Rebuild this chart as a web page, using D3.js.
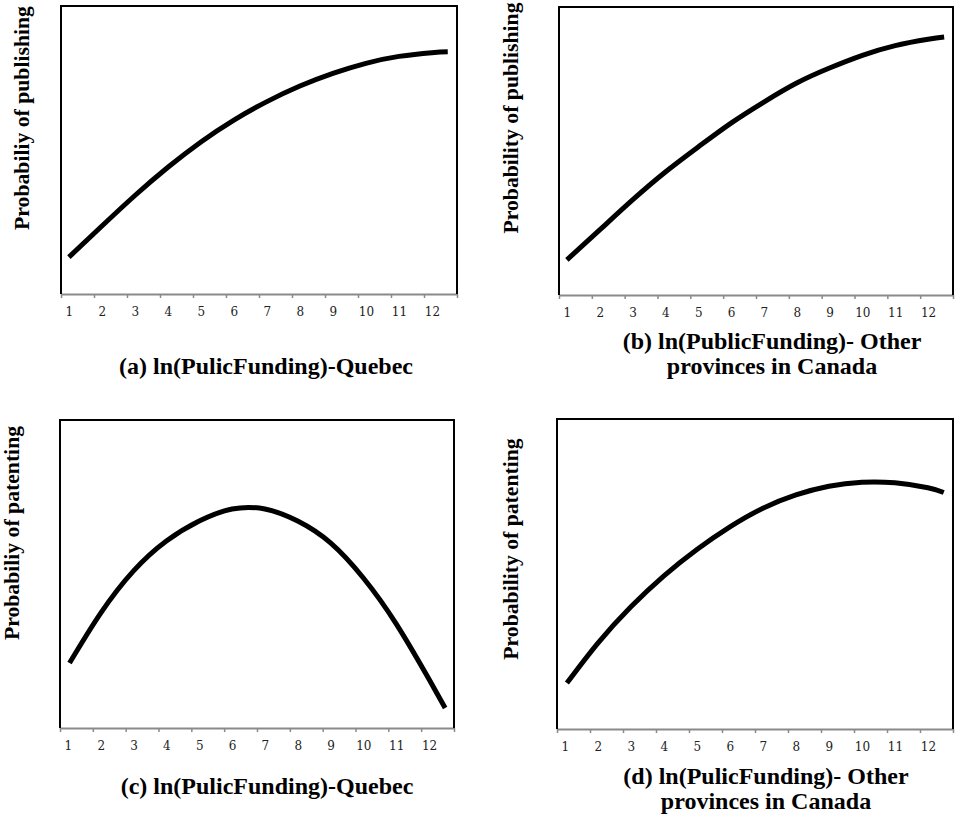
<!DOCTYPE html>
<html>
<head>
<meta charset="utf-8">
<script src="https://cdn.jsdelivr.net/npm/d3@7"></script>
<style>
  body { margin: 0; background: #fff; }
</style>
</head>
<body>
<div id="chart"></div>
<script>
const width = 955,
  height = 817

// x axis labels, ln(public funding)
const xLabels = d3.range(1, 13)

// (a) publishing - Quebec
const pubQcX = [1, 2, 3, 4, 5, 6, 7, 8, 9, 10, 11, 12, 12.48]
const pubQcY = [0.128, 0.236, 0.342, 0.440, 0.528, 0.604, 0.668, 0.722, 0.766, 0.801, 0.825, 0.838, 0.841]

// (b) publishing - other provinces
const pubOtherX = [1, 2, 3, 4, 5, 6, 7, 8, 9, 10, 11, 12, 12.49]
const pubOtherY = [0.122, 0.226, 0.330, 0.427, 0.514, 0.597, 0.670, 0.736, 0.788, 0.832, 0.866, 0.888, 0.896]

// (c) patenting - Quebec
const patQcX = [1.05, 2, 3, 4, 5, 6, 7, 8, 9, 10, 11, 12, 12.49]
const patQcY = [0.211, 0.373, 0.510, 0.607, 0.672, 0.711, 0.711, 0.672, 0.601, 0.487, 0.338, 0.158, 0.065]

// (d) patenting - other provinces
const patOtherX = [1.06, 2, 3, 4, 5, 6, 7, 8, 9, 10, 11, 12, 12.48]
const patOtherY = [0.148, 0.277, 0.394, 0.494, 0.579, 0.652, 0.712, 0.755, 0.783, 0.796, 0.794, 0.778, 0.763]

const panels = [
  { xs: pubQcX, ys: pubQcY, left: 61, right: 457, top: 6, bottom: 294,
    ylab: "Probabiliy of publishing", ylabX: 29, ylabY: 118,
    title: ["(a) ln(PulicFunding)-Quebec"], titleX: 266, titleY: 374 },
  { xs: pubOtherX, ys: pubOtherY, left: 559, right: 953, top: 7, bottom: 295,
    ylab: "Probability of publishing", ylabX: 518, ylabY: 118,
    title: ["(b) ln(PublicFunding)- Other", "provinces in Canada"], titleX: 772, titleY: 349 },
  { xs: patQcX, ys: patQcY, left: 60, right: 454, top: 420, bottom: 728,
    ylab: "Probabiliy of patenting", ylabX: 19, ylabY: 533,
    title: ["(c) ln(PulicFunding)-Quebec"], titleX: 267, titleY: 794 },
  { xs: patOtherX, ys: patOtherY, left: 557, right: 953, top: 419, bottom: 729,
    ylab: "Probability of patenting", ylabX: 518, ylabY: 549,
    title: ["(d) ln(PulicFunding)- Other", "provinces in Canada"], titleX: 766, titleY: 784 }
]

const svg = d3
  .select("#chart")
  .append("svg")
  .attr("width", width)
  .attr("height", height)

// first tick mark sits a bit left of label "1"
const x0 = 0.76

panels.forEach((p) => {
  const g = svg.append("g")

  const x = d3.scaleLinear().domain([x0, x0 + 12]).range([p.left, p.right])
  const y = d3.scaleLinear().domain([0, 1]).range([p.bottom, p.top])

  // tick marks + axis line (grey)
  const markAxis = g
    .append("g")
    .attr("transform", `translate(0, ${p.bottom})`)
    .call(d3.axisBottom(x)
      .tickValues(d3.range(13).map((k) => x0 + k))
      .tickSize(4)
      .tickSizeOuter(0)
      .tickFormat(""))
  markAxis.select(".domain").attr("stroke", "#8a8a8a").attr("stroke-width", 2)
  markAxis.selectAll(".tick line").attr("stroke", "#8a8a8a").attr("stroke-width", 1.5)

  // labels
  const labAxis = g
    .append("g")
    .attr("transform", `translate(0, ${p.bottom})`)
    .call(d3.axisBottom(x).tickValues(xLabels).tickSize(0).tickPadding(13))
  labAxis.select(".domain").remove()
  labAxis
    .selectAll("text")
    .style("font-family", "DejaVu Serif")
    .style("font-size", "12px")
    .attr("fill", "#222")

  // frame: left, top, right in black
  g.append("path")
    .attr("d", `M${p.left},${p.bottom}V${p.top}H${p.right}V${p.bottom}`)
    .attr("fill", "none")
    .attr("stroke", "#000")
    .attr("stroke-width", 2)

  // curve
  const line = d3.line()
    .x((d) => x(d[0]))
    .y((d) => y(d[1]))
    .curve(d3.curveNatural)
  g.append("path")
    .datum(d3.zip(p.xs, p.ys))
    .attr("fill", "none")
    .attr("stroke", "#000")
    .attr("stroke-width", 5)
    .attr("d", line)

  // y label
  g.append("text")
    .attr("transform", `translate(${p.ylabX}, ${p.ylabY}) rotate(-90)`)
    .style("text-anchor", "middle")
    .style("font-family", "Liberation Serif")
    .style("font-weight", "bold")
    .style("font-size", "21.7px")
    .text(p.ylab)

  // panel title
  const t = g.append("text")
    .style("text-anchor", "middle")
    .style("font-family", "Liberation Serif")
    .style("font-weight", "bold")
    .style("font-size", "24px")
  p.title.forEach((s, i) => {
    t.append("tspan")
      .attr("x", p.titleX)
      .attr("y", p.titleY + i * 25)
      .text(s)
  })
})
</script>
</body>
</html>
